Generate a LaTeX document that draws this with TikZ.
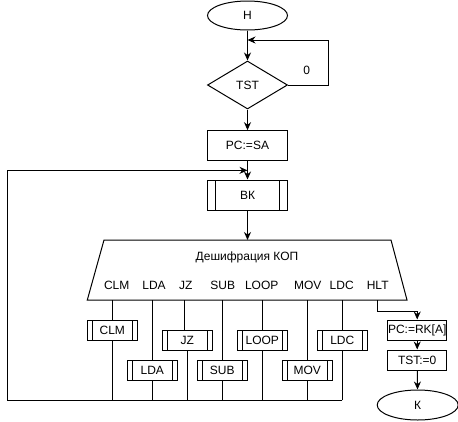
\documentclass[tikz,border=0pt]{standalone}
\usepackage{fontspec}
\setmainfont{Liberation Sans}
\usetikzlibrary{shapes.geometric,arrows.meta,calc}
\begin{document}
\begin{tikzpicture}[x=1pt, y=-1pt, line width=1pt,
  every node/.style={font=\fontsize{12}{14}\selectfont},
  term/.style={draw, ellipse, minimum width=80pt, minimum height=30pt},
  box/.style={draw, rectangle, minimum width=80pt, minimum height=30pt},
  smallbox/.style={draw, rectangle, minimum width=59pt, minimum height=20pt},
  cond/.style={draw, diamond, minimum width=80pt, minimum height=48pt},
  proc/.style={draw, fill=white, rectangle, path picture={
    \draw ([xshift=#1]path picture bounding box.north west) -- ([xshift=#1]path picture bounding box.south west);
    \draw ([xshift=-#1]path picture bounding box.north east) -- ([xshift=-#1]path picture bounding box.south east);}},
  sub/.style={proc=5pt, minimum width=50pt, minimum height=20pt},
  flow/.style={-{Stealth[length=8pt,width=7pt]}}]
\tikzstyle{every node}+=[inner sep=0pt]
\useasboundingbox (0,0) rectangle (458,421);
\node[term, minimum height=29pt] (start) at (247.5,15.5) {Н};
\node[cond] (tst) at (247.5,85) {TST};
\node (zero) at (306.7,70) {0};
\node[box] (pcsa) at (247.5,145.7) {PC:=SA};
\node[box, proc=8pt] (bk) at (247.5,195) {ВК};
\coordinate (decnw) at (104,240);
\coordinate (decne) at (391,240);
\coordinate (decse) at (407,300);
\coordinate (decsw) at (87.3,300);
\draw (decsw) -- (decnw) -- (decne) -- (decse) -- cycle;
\node (title) at (247,257) {Дешифрация КОП};
\node (lclm) at (116.7,285) {CLM};
\node (llda) at (154,285) {LDA};
\node (ljz) at (185.7,285) {JZ};
\node (lsub) at (222.7,285) {SUB};
\node (lloop) at (261.7,285) {LOOP};
\node (lmov) at (307.7,285) {MOV};
\node (lldc) at (341.7,285) {LDC};
\node (lhlt) at (377.7,285) {HLT};
\node[sub] (clm) at (112.3,330) {CLM};
\node[sub] (lda) at (152.3,370) {LDA};
\node[sub] (jz) at (187.3,340) {JZ};
\node[sub] (subr) at (222.3,370) {SUB};
\node[sub] (loop) at (262.3,340) {LOOP};
\node[sub] (mov) at (307.3,370) {MOV};
\node[sub] (ldc) at (342.3,340) {LDC};
\node[smallbox] (pcrk) at (417.2,330) {PC:=RK[A]};
\node[smallbox] (tstz) at (417.2,360) {TST:=0};
\node[term, minimum width=81pt] (fin) at (417.7,405) {К};
\coordinate (loopin) at (247.5,40);
\coordinate (bl) at (7.3,400);
\draw[flow] (start) -- (tst);
\draw[flow] (tst.east) -- ++(40,0) |- (loopin);
\draw[flow] (tst) -- (pcsa);
\draw[flow] (pcsa) -- (bk);
\draw[flow] (bk) -- (bk |- decnw);
\draw (clm |- decsw) -- (clm) -- (clm |- bl);
\draw (lda |- decsw) -- (lda) -- (lda |- bl);
\draw ([xshift=-3pt]jz.north |- decsw) -- ([xshift=-3pt]jz.north);
\draw (jz) -- (jz |- bl);
\draw (subr |- decsw) -- (subr) -- (subr |- bl);
\draw (loop |- decsw) -- (loop) -- (loop |- bl);
\draw (mov |- decsw) -- (mov) -- (mov |- bl);
\draw (ldc |- decsw) -- (ldc) -- (ldc |- bl);
\draw[flow] (ldc |- bl) -- (bl) |- ($(pcsa.south)!.5!(bk.north)$);
\draw[flow] (lhlt |- decsw) -- ++(0,11) -| (pcrk);
\draw[flow] (pcrk) -- (tstz);
\draw[flow] (tstz) -- (fin);
\end{tikzpicture}
\end{document}
